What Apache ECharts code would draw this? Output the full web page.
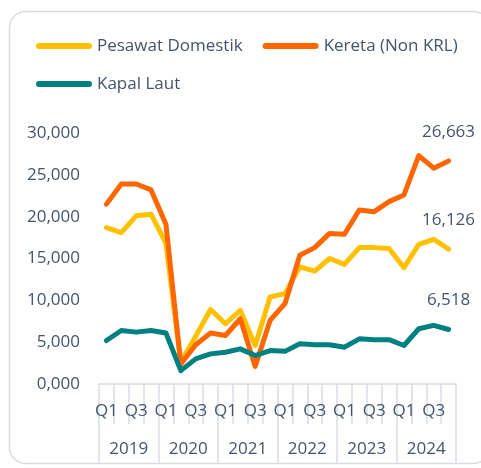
<!DOCTYPE html>
<html>
<head>
<meta charset="utf-8">
<script src="https://cdn.jsdelivr.net/npm/echarts@6/dist/echarts.min.js"></script>
<style>
  html, body { margin: 0; padding: 0; background: #ffffff; }
  #chart { width: 481px; height: 468px; }
</style>
</head>
<body>
<div id="chart"></div>
<script>
// kuartal 2019 Q1 .. 2024 Q4
const quarters = ['Q1', 'Q2', 'Q3', 'Q4'];
const years = ['2019', '2020', '2021', '2022', '2023', '2024'];
const categories = [];
years.forEach(function () { quarters.forEach(function (q) { categories.push(q); }); });

const pesawatDomestik = [18700, 18100, 20100, 20300, 16800, 2600, 5700, 8900, 7200, 8800, 4600, 10400,
  10800, 14000, 13500, 15000, 14300, 16300, 16300, 16200, 13900, 16700, 17300, 16126];
const keretaNonKRL = [21500, 23900, 23900, 23200, 19100, 2400, 4700, 6100, 5800, 7800, 2100, 7600,
  9600, 15400, 16300, 18000, 17900, 20800, 20600, 21800, 22600, 27300, 25800, 26663];
const kapalLaut = [5200, 6400, 6200, 6400, 6100, 1600, 3000, 3600, 3800, 4200, 3400, 4000,
  3900, 4800, 4700, 4700, 4400, 5400, 5300, 5300, 4600, 6600, 7000, 6518];

const textColor = '#44546a';
const gridColor = '#d9dde3';
const font = 'Open Sans';
const fontSize = 17;

function fmt(v) {
  if (v === 0) return '0,000';
  return v.toLocaleString('en-US');
}

function lastLabel(params) {
  return params.dataIndex === categories.length - 1 ? fmt(params.value) : '';
}

function makeSeries(name, data, color) {
  return {
    name: name,
    type: 'line',
    data: data,
    showSymbol: true,
    symbol: 'circle',
    symbolSize: 1,
    lineStyle: { width: 5, color: color, cap: 'round', join: 'round' },
    itemStyle: { color: color },
    label: {
      show: true,
      position: 'top',
      distance: 20,
      formatter: lastLabel,
      color: textColor,
      fontFamily: font,
      fontSize: fontSize
    },
    emphasis: { disabled: true }
  };
}

const chart = echarts.init(document.getElementById('chart'), null, { renderer: 'canvas' });

const option = {
  backgroundColor: '#ffffff',
  animation: false,
  graphic: [{
    type: 'rect',
    shape: { x: 9.5, y: 11.5, width: 480, height: 452, r: 16 },
    style: { fill: 'none', stroke: gridColor, lineWidth: 1.5 },
    silent: true,
    z: -1
  }],
  legend: {
    left: 36,
    top: 37,
    width: 445,
    padding: 0,
    itemWidth: 56,
    itemHeight: 6,
    itemGap: 20,
    icon: 'path://M3,0 H53 A3,3 0 0 1 53,6 H3 A3,3 0 0 1 3,0 Z',
    textStyle: { color: textColor, fontFamily: font, fontSize: fontSize, lineHeight: 18 },
    data: ['Pesawat Domestik', 'Kereta (Non KRL)', 'Kapal Laut']
  },
  grid: { left: 99, right: 25, top: 133, bottom: 84, containLabel: false },
  xAxis: [{
    type: 'category',
    data: categories,
    position: 'bottom',
    axisLine: { lineStyle: { color: gridColor, width: 1.5 } },
    axisTick: { show: true, interval: 0, length: 40, lineStyle: { color: gridColor, width: 1.5 } },
    axisLabel: { interval: 1, margin: 19, color: textColor, fontFamily: font, fontSize: fontSize },
    splitLine: { show: false }
  }, {
    type: 'category',
    data: years,
    position: 'bottom',
    axisLine: { show: false },
    axisTick: { show: true, interval: 0, length: 80, lineStyle: { color: gridColor, width: 1.5 } },
    axisLabel: { interval: 0, margin: 57, color: textColor, fontFamily: font, fontSize: fontSize },
    splitLine: { show: false }
  }],
  yAxis: {
    type: 'value',
    min: 0,
    max: 30000,
    interval: 5000,
    axisLine: { show: false },
    axisTick: { show: false },
    splitLine: { show: false },
    axisLabel: { margin: 19, color: textColor, fontFamily: font, fontSize: fontSize, formatter: fmt }
  },
  series: [
    makeSeries('Pesawat Domestik', pesawatDomestik, '#ffc000'),
    makeSeries('Kereta (Non KRL)', keretaNonKRL, '#ff6600'),
    makeSeries('Kapal Laut', kapalLaut, '#008080')
  ]
};

chart.setOption(option);
</script>
</body>
</html>
